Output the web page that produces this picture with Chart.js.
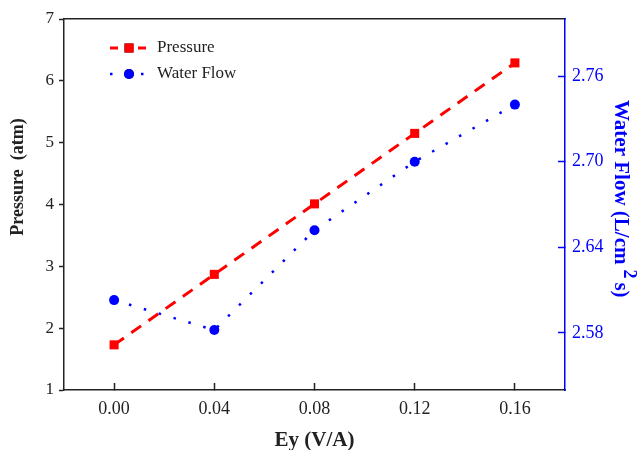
<!DOCTYPE html>
<html>
<head>
<meta charset="utf-8">
<script src="https://cdn.jsdelivr.net/npm/chart.js@4"></script>
<style>
  body { margin: 0; background: #fff; }
  canvas { display: block; }
</style>
</head>
<body>
<canvas id="chart" width="643" height="450"></canvas>
<script>
// data
const eyValues = [0.00, 0.04, 0.08, 0.12, 0.16];
const pressure = [1.73, 2.87, 4.01, 5.15, 6.29];
const waterFlow = [2.603, 2.582, 2.652, 2.700, 2.740];

const xTicks = [0.00, 0.04, 0.08, 0.12, 0.16];
const pressureTicks = [1, 2, 3, 4, 5, 6, 7];
const flowTicks = [2.58, 2.64, 2.70, 2.76];

const serif = "'Liberation Serif', 'Times New Roman', serif";
const axisColor = '#222';
const blue = '#0000ff';
const red = '#ff0000';

function setTicks(values) {
  return function (scale) {
    scale.ticks = values.map(v => ({ value: v }));
  };
}

// fixed box sizes, and no extra padding from tick labels
function fixSize(w, h) {
  return function (scale) {
    if (w !== null) scale.width = w;
    if (h !== null) scale.height = h;
    scale.paddingTop = 0;
    scale.paddingBottom = 0;
    scale.paddingLeft = 0;
    scale.paddingRight = 0;
  };
}

// legend drawn inside the plot, line sample + marker like the original
const insideLegend = {
  id: 'insideLegend',
  afterDatasetsDraw(chart) {
    const ctx = chart.ctx;
    const area = chart.chartArea;
    const x0 = area.left + 46, x1 = area.left + 84, xm = (x0 + x1) / 2;
    chart.data.datasets.forEach((ds, i) => {
      const y = area.top + 29 + i * 26;
      ctx.save();
      ctx.strokeStyle = ds.borderColor;
      ctx.lineWidth = ds.borderWidth;
      ctx.setLineDash(ds.legendDash);
      ctx.beginPath();
      ctx.moveTo(x0, y);
      ctx.lineTo(x1, y);
      ctx.stroke();
      ctx.setLineDash([]);
      Chart.helpers.drawPoint(ctx, {
        pointStyle: ds.pointStyle,
        radius: ds.pointRadius,
        borderWidth: 0,
        rotation: 0
      }, xm, y);
      ctx.fillStyle = ds.backgroundColor;
      ctx.fill();
      ctx.fillStyle = axisColor;
      ctx.font = '17px ' + serif;
      ctx.textBaseline = 'middle';
      ctx.fillText(ds.label, x1 + 9, y);
      ctx.restore();
    });
  }
};

// y axis titles: the left one sits above centre, the right one has a raised 2
const axisTitles = {
  id: 'axisTitles',
  afterDraw(chart) {
    const ctx = chart.ctx;
    const area = chart.chartArea;

    ctx.save();
    ctx.translate(area.left - 46, area.top + 158);
    ctx.rotate(-Math.PI / 2);
    ctx.fillStyle = axisColor;
    ctx.font = 'bold 18px ' + serif;
    ctx.textAlign = 'center';
    ctx.textBaseline = 'middle';
    ctx.fillText('Pressure  (atm)', 0, 0);
    ctx.restore();

    ctx.save();
    ctx.translate(area.right + 50, area.top + 81);
    ctx.rotate(Math.PI / 2);
    ctx.fillStyle = blue;
    ctx.textBaseline = 'alphabetic';
    ctx.font = 'bold 21px ' + serif;
    const main = 'Water Flow (L/cm';
    ctx.fillText(main, 0, 0);
    let x = ctx.measureText(main).width + 5;
    ctx.font = 'bold 18px ' + serif;
    ctx.fillText('2', x, -9);
    x += ctx.measureText('2').width + 4;
    ctx.font = 'bold 21px ' + serif;
    ctx.fillText('s)', x, 0);
    ctx.restore();
  }
};

const ctx = document.getElementById('chart').getContext('2d');
const chart = new Chart(ctx, {
  type: 'line',
  data: {
    datasets: [{
      label: 'Pressure',
      data: eyValues.map((x, i) => ({ x: x, y: pressure[i] })),
      yAxisID: 'y',
      borderColor: red,
      backgroundColor: red,
      borderWidth: 3,
      borderDash: [12, 9],
      legendDash: [8, 20],
      pointStyle: 'rect',
      pointRadius: 6.4,
      pointBorderWidth: 0,
      tension: 0
    }, {
      label: 'Water Flow',
      data: eyValues.map((x, i) => ({ x: x, y: waterFlow[i] })),
      yAxisID: 'y1',
      borderColor: blue,
      backgroundColor: blue,
      borderWidth: 2.5,
      borderDash: [2.5, 13],
      legendDash: [2.5, 13],
      pointStyle: 'circle',
      pointRadius: 5,
      pointBorderWidth: 0,
      tension: 0
    }]
  },
  options: {
    responsive: false,
    animation: false,
    layout: { padding: { top: 19, left: 0, right: 0, bottom: 0 } },
    plugins: {
      legend: { display: false },
      tooltip: { enabled: false }
    },
    scales: {
      x: {
        type: 'linear',
        position: 'bottom',
        min: -0.02,
        max: 0.18,
        afterBuildTicks: setTicks(xTicks),
        afterFit: fixSize(null, 60),
        grid: { drawOnChartArea: false, tickLength: -7, tickColor: axisColor, tickWidth: 1.5 },
        border: { color: axisColor, width: 1.5 },
        ticks: {
          padding: 15,
          color: axisColor,
          font: { family: serif, size: 18 },
          callback: v => v.toFixed(2)
        },
        title: {
          display: true,
          text: 'Ey (V/A)',
          color: axisColor,
          font: { family: serif, size: 21, weight: 'bold', lineHeight: 1 },
          padding: { top: 0, bottom: -1 }
        }
      },
      xTop: {
        type: 'linear',
        position: 'top',
        min: -0.02,
        max: 0.18,
        afterFit: fixSize(null, 0),
        grid: { drawOnChartArea: false, drawTicks: false },
        border: { color: axisColor, width: 1.5 },
        ticks: { display: false }
      },
      y: {
        type: 'linear',
        position: 'left',
        min: 1,
        max: 7,
        afterBuildTicks: setTicks(pressureTicks),
        afterFit: fixSize(64, null),
        grid: { drawOnChartArea: false, tickLength: 5, tickColor: axisColor, tickWidth: 1.5 },
        border: { color: axisColor, width: 1.5 },
        ticks: {
          padding: 5,
          color: axisColor,
          font: { family: serif, size: 17 }
        }
      },
      y1: {
        type: 'linear',
        position: 'right',
        min: 2.54,
        max: 2.80,
        afterBuildTicks: setTicks(flowTicks),
        afterFit: fixSize(78, null),
        grid: { drawOnChartArea: false, tickLength: -7, tickColor: blue, tickWidth: 1.5 },
        border: { color: blue, width: 1.5 },
        ticks: {
          padding: 14,
          color: blue,
          font: { family: serif, size: 18 },
          callback: v => v.toFixed(2)
        }
      }
    }
  },
  plugins: [insideLegend, axisTitles]
});
</script>
</body>
</html>
